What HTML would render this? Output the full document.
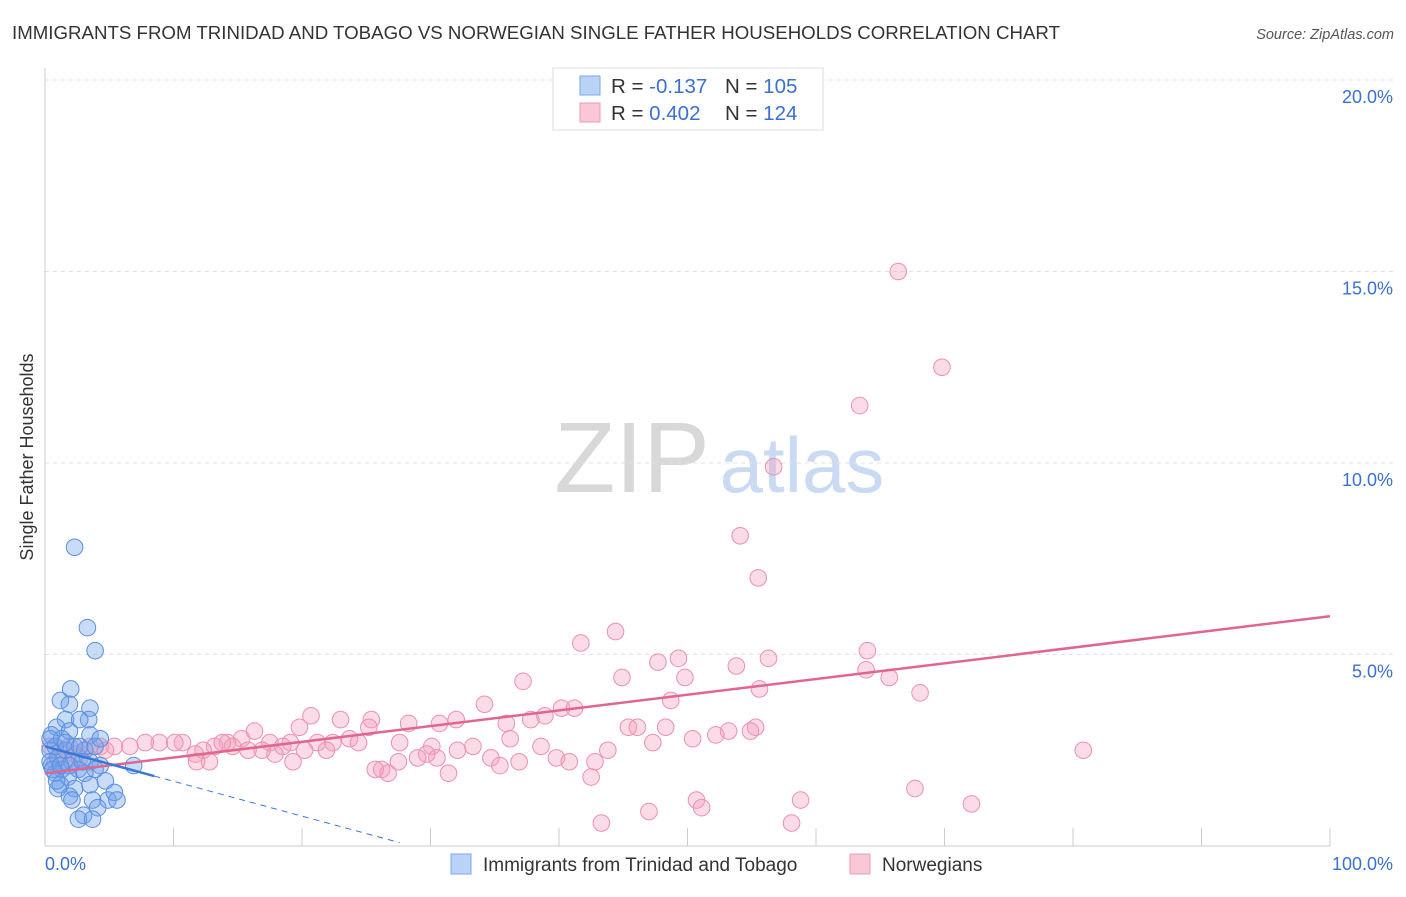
<!DOCTYPE html>
<html><head><meta charset="utf-8"><style>
body{margin:0;background:#fff;font-family:"Liberation Sans",sans-serif;}
svg text{font-family:"Liberation Sans",sans-serif;}
</style></head><body>
<svg id="chart" width="1406" height="892" viewBox="0 0 1406 892" xmlns="http://www.w3.org/2000/svg">
<text x="12" y="39" font-size="18" fill="#333" textLength="1048" lengthAdjust="spacingAndGlyphs">IMMIGRANTS FROM TRINIDAD AND TOBAGO VS NORWEGIAN SINGLE FATHER HOUSEHOLDS CORRELATION CHART</text>
<text x="1394" y="39" font-size="14.5" fill="#555" font-style="italic" text-anchor="end">Source: ZipAtlas.com</text>
<g>
<text x="632" y="492" font-size="100" fill="#d8d8d8" font-family="Liberation Serif" text-anchor="middle">ZIP</text>
<text x="802" y="492" font-size="78" fill="#c9daf2" text-anchor="middle">atlas</text>
</g>
<g id="grid"></g>
<g id="axes"></g>
<g id="marks"></g>
<g>
<rect x="553" y="68" width="270" height="62" fill="#fff" stroke="#ddd"/>
<rect x="580" y="76" width="20" height="19" fill="#b9d2f5" stroke="#7aa6e8"/>
<rect x="580" y="103" width="20" height="19" fill="#f9c7d6" stroke="#ec9ab5"/>
<text x="611" y="93" font-size="20.5" fill="#333">R = <tspan fill="#3a70cf">-0.137</tspan></text>
<text x="725" y="93" font-size="20.5" fill="#333">N = <tspan fill="#3a70cf">105</tspan></text>
<text x="611" y="120" font-size="20.5" fill="#333">R = <tspan fill="#3a70cf"> 0.402</tspan></text>
<text x="725" y="120" font-size="20.5" fill="#333">N = <tspan fill="#3a70cf">124</tspan></text>
</g>
<text transform="translate(33,457) rotate(-90)" font-size="18" fill="#333" text-anchor="middle">Single Father Households</text>
<g>
<rect x="451" y="854" width="20" height="20" fill="#b9d2f5" stroke="#7aa6e8"/>
<text x="483" y="871" font-size="19" fill="#333">Immigrants from Trinidad and Tobago</text>
<rect x="850" y="854" width="20" height="20" fill="#f9c7d6" stroke="#ec9ab5"/>
<text x="882" y="871" font-size="19" fill="#333">Norwegians</text>
</g>
</svg>
<script>
const yTicks=[5,10,15,20];
const yTickLabels=["5.0%","10.0%","15.0%","20.0%"];
const xTicks=[0,10,20,30,40,50,60,70,80,90,100];
const blueX=[2.3,3.3,3.9,2.0,1.2,1.9,3.5,3.4,1.6,2.7,0.9,1.9,3.5,0.5,1.3,2.3,0.8,0.4,1.6,3.1,1.0,2.1,3.5,4.3,0.5,1.3,2.6,3.9,6.9,0.8,1.8,3.1,4.7,1.2,2.3,3.5,1.0,1.9,4.9,5.4,5.6,3.7,2.1,4.1,3.0,2.6,3.7,0.4,0.6,1.6,2.7,3.9,4.3,1.9,1.2,2.9,0.4,0.9];
const blueY=[7.8,5.7,5.1,4.1,3.8,3.7,3.6,3.3,3.3,3.3,3.1,3.0,2.9,2.9,2.8,2.6,2.6,2.5,2.5,2.5,2.3,2.2,2.2,2.1,2.1,2.0,2.0,2.0,2.1,1.9,1.8,1.9,1.7,1.6,1.5,1.6,1.5,1.3,1.2,1.4,1.2,1.2,1.2,1.0,0.8,0.7,0.7,2.2,2.0,2.7,2.6,2.6,2.8,2.1,2.1,2.2,2.8,1.7];
const pinkX=[66.4,69.8,63.4,56.7,54.1,55.5,44.4,41.7,47.7,49.3,53.8,56.3,64.0,63.9,44.9,49.8,37.2,65.7,68.1,55.6,48.7,34.2,20.7,40.2,41.2,38.9,32.0,25.4,23.0,25.2,28.3,30.7,35.9,37.8,45.4,46.1,48.3,55.3,53.2,52.2,54.9,19.8,19.1,15.3,16.3,14.2,13.2,12.3,10.7,8.9,7.8,6.6,5.4,4.3,4.7,3.5,10.1,11.7,17.5,18.5,21.2,22.4,23.7,24.4,16.9,15.8,14.6,13.8,17.9,20.2,21.9,27.6,30.1,32.1,33.3,36.2,38.6,43.8,47.3,50.4,80.8,34.7,30.5,29.7,29.0,27.5,26.2,25.7,26.7,31.4,36.9,35.4,39.8,40.8,42.8,42.5,19.3,12.8,11.8,67.7,72.1,58.8,50.7,51.1,47.0,43.3,58.1,1.2,1.9,2.3,0.8,1.6,2.7,3.1,0.4];
const pinkY=[15.0,12.5,11.5,9.9,8.1,7.0,5.6,5.3,4.8,4.9,4.7,4.9,5.1,4.6,4.4,4.4,4.3,4.4,4.0,4.1,3.8,3.7,3.4,3.6,3.6,3.4,3.3,3.3,3.3,3.1,3.2,3.2,3.2,3.3,3.1,3.1,3.1,3.1,3.0,2.9,3.0,3.1,2.7,2.8,3.0,2.7,2.6,2.5,2.7,2.7,2.7,2.6,2.6,2.6,2.5,2.6,2.7,2.4,2.7,2.6,2.7,2.7,2.8,2.7,2.5,2.5,2.6,2.7,2.4,2.5,2.5,2.7,2.6,2.5,2.6,2.8,2.6,2.5,2.7,2.8,2.5,2.3,2.3,2.4,2.3,2.2,2.0,2.0,1.9,1.9,2.2,2.1,2.3,2.2,2.2,1.8,2.2,2.2,2.2,1.5,1.1,1.2,1.2,1.0,0.9,0.6,0.6,2.5,2.6,2.4,2.2,2.2,2.3,2.5,2.6];
const pinkTrend=[0,1.9,100,6.0];
const blueTrend=[0,2.6,8.5,27.6];
const blueSlope=-0.091;

const NS="http://www.w3.org/2000/svg";
const X0=45,X1=1330,Y0=846,YPER=38.3;
const sx=v=>X0+(X1-X0)*v/100;
const sy=v=>Y0-v*YPER;
function mk(tag,attrs,parent){const e=document.createElementNS(NS,tag);for(const k in attrs)e.setAttribute(k,attrs[k]);parent.appendChild(e);return e;}
const grid=document.getElementById('grid'),axes=document.getElementById('axes'),marks=document.getElementById('marks');
yTicks.forEach((t,i)=>{
 const l=mk('line',{x1:45,x2:1395,y1:sy(t),y2:sy(t),stroke:'#e2e2e2','stroke-dasharray':'4,4'},grid);
 
 
 const tx=mk('text',{x:1393,y:sy(t)+23,'font-size':18,fill:'#3a70cf','text-anchor':'end'},axes);
 tx.textContent=yTickLabels[i];
 
 
});
const ya=mk('line',{x1:45,x2:45,y1:68,y2:846,stroke:'#ccc'},axes);


const xa=mk('line',{x1:45,x2:1330,y1:846,y2:846,stroke:'#ccc'},axes);


xTicks.forEach(t=>{
 const l=mk('line',{x1:sx(t),x2:sx(t),y1:828,y2:846,stroke:'#ccc'},axes);
 
 
});
const xl0=mk('text',{x:45,y:870,'font-size':18,fill:'#3a70cf'},axes);xl0.textContent='0.0%';


const xl1=mk('text',{x:1393,y:870,'font-size':18,fill:'#3a70cf','text-anchor':'end'},axes);xl1.textContent='100.0%';



pinkX.forEach((x,i)=>{
 const c=mk('circle',{cx:sx(x),cy:sy(pinkY[i]),r:8.3,fill:'rgba(243,160,188,0.38)',stroke:'#ec90b0','stroke-width':1},marks);
 
 
});
blueX.forEach((x,i)=>{
 const c=mk('circle',{cx:sx(x),cy:sy(blueY[i]),r:8.3,fill:'rgba(110,160,235,0.38)',stroke:'#5b8fe0','stroke-width':1},marks);
 
 
});
const pl=mk('line',{x1:sx(pinkTrend[0]),y1:sy(pinkTrend[1]),x2:sx(pinkTrend[2]),y2:sy(pinkTrend[3]),stroke:'#e0668f','stroke-width':2.5},marks);


const by=x=>blueTrend[1]+blueSlope*(x-blueTrend[0]);
const bl=mk('line',{x1:sx(blueTrend[0]),y1:sy(by(blueTrend[0])),x2:sx(blueTrend[2]),y2:sy(by(blueTrend[2])),stroke:'#3a78d8','stroke-width':2.5},marks);


const bd=mk('line',{x1:sx(blueTrend[2]),y1:sy(by(blueTrend[2])),x2:sx(blueTrend[3]),y2:sy(by(blueTrend[3])),stroke:'#3a78d8','stroke-width':1,'stroke-dasharray':'6,5'},marks);


</script>
</body></html>
